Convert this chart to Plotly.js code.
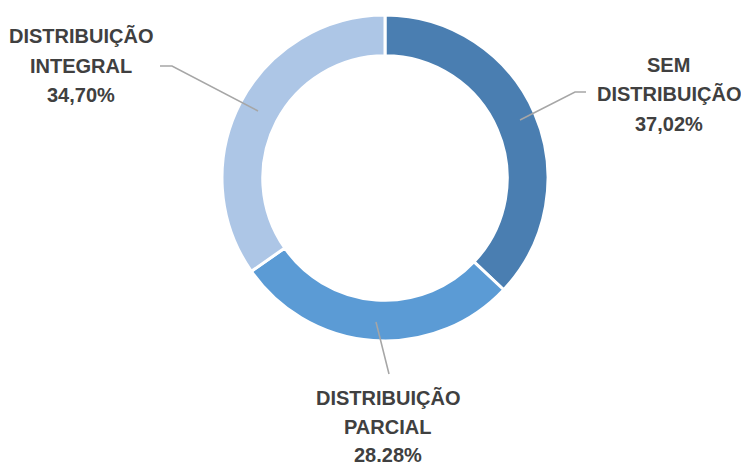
<!DOCTYPE html>
<html><head><meta charset="utf-8">
<script src="https://cdn.plot.ly/plotly-3.0.1.min.js"></script>
<style>html,body{margin:0;padding:0;background:#fff}</style>
</head><body><div id="chart" style="width:741px;height:466px"></div>
<script>
const categories = ['SEM DISTRIBUIÇÃO', 'DISTRIBUIÇÃO PARCIAL', 'DISTRIBUIÇÃO INTEGRAL'];
const values = [37.02, 28.28, 34.70];
const labelLines = [
  ['SEM', 'DISTRIBUIÇÃO', '37,02%'],
  ['DISTRIBUIÇÃO', 'PARCIAL', '28.28%'],
  ['DISTRIBUIÇÃO', 'INTEGRAL', '34,70%']
];
const colors = ['#4A7EB1', '#5B9BD5', '#ADC6E6'];

const W = 741, H = 466;
const px = x => x / W, py = y => 1 - y / H;
// label placement (pixels): centre x, first line y, line step
const labelPos = [[668.5, 65, 29.5], [388, 398, 28.5], [80.5, 36, 29.5]];
// leader lines (pixels)
const leaders = [
  [[520,120],[575,92],[586,92]],
  [[376,322],[389,374]],
  [[258,111],[172,66],[160,66]]
];

const annotations = [];
labelLines.forEach((lines, i) => {
  lines.forEach((t, j) => {
    annotations.push({
      xref: 'paper', yref: 'paper',
      x: px(labelPos[i][0]), y: py(labelPos[i][1] + j * labelPos[i][2]),
      text: '<b>' + t + '</b>', showarrow: false,
      xanchor: 'center', yanchor: 'middle',
      font: {family: 'Liberation Sans, Arial, sans-serif', size: 20, color: '#404040'}
    });
  });
});
const shapes = leaders.map(pts => ({
  type: 'path', xref: 'paper', yref: 'paper',
  path: pts.map((p, k) => (k ? 'L' : 'M') + px(p[0]) + ',' + py(p[1])).join(' '),
  line: {color: '#A6A6A6', width: 1.5}
}));

const cx = 385, cy = 178, R = 163;
Plotly.newPlot('chart', [{
  type: 'pie', labels: categories, values: values,
  hole: 0.75, sort: false, direction: 'clockwise', rotation: 0,
  textinfo: 'none', hoverinfo: 'label+percent',
  marker: {colors: colors, line: {color: '#ffffff', width: 3}},
  domain: {x: [px(cx - R), px(cx + R)], y: [py(cy + R), py(cy - R)]}
}], {
  width: W, height: H, margin: {l: 0, r: 0, t: 0, b: 0},
  showlegend: false, paper_bgcolor: '#ffffff',
  annotations: annotations, shapes: shapes
}, {displayModeBar: false, staticPlot: true});
</script></body></html>
